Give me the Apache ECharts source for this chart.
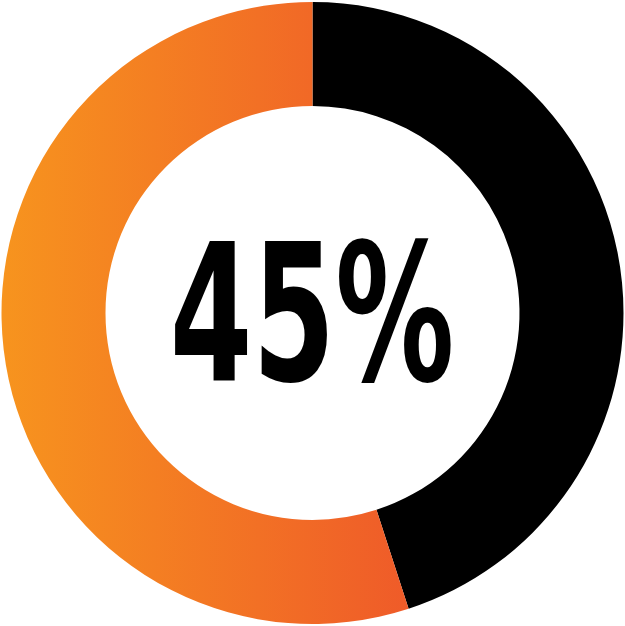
<!DOCTYPE html>
<html>
<head>
<meta charset="utf-8">
<script src="https://cdn.jsdelivr.net/npm/echarts@6/dist/echarts.min.js"></script>
<style>
html,body{margin:0;padding:0;background:#fff;}
#main{width:625px;height:626px;}
</style>
</head>
<body>
<div id="main"></div>
<script>
const categories = ['Done', 'Remaining'];
const values = [45, 55];
const centerLabel = '45%';

const chart = echarts.init(document.getElementById('main'), null, {renderer: 'canvas'});
chart.setOption({
  backgroundColor: '#ffffff',
  animation: false,
  series: [{
    type: 'pie',
    center: [312.5, 313],
    radius: [207, 311],
    startAngle: 90,
    clockwise: true,
    silent: true,
    label: {show: false},
    labelLine: {show: false},
    data: categories.map((c, i) => ({
      name: c,
      value: values[i],
      itemStyle: i === 0 ? {color: '#000000'} : {
        color: new echarts.graphic.LinearGradient(0, 0, 1, 0, [
          {offset: 0, color: '#F7941E'},
          {offset: 1, color: '#EF5B29'}
        ])
      }
    }))
  }],
  graphic: [{
    type: 'text',
    x: 312,
    y: 331,
    originX: 0,
    originY: 0,
    scaleX: 0.695,
    style: {
      text: centerLabel,
      x: 0, y: 0,
      font: 'bold 190px "Liberation Sans Narrow", "DejaVu Sans Condensed", sans-serif',
      fill: '#000000',
      align: 'center',
      verticalAlign: 'middle'
    }
  }]
});
</script>
</body>
</html>
